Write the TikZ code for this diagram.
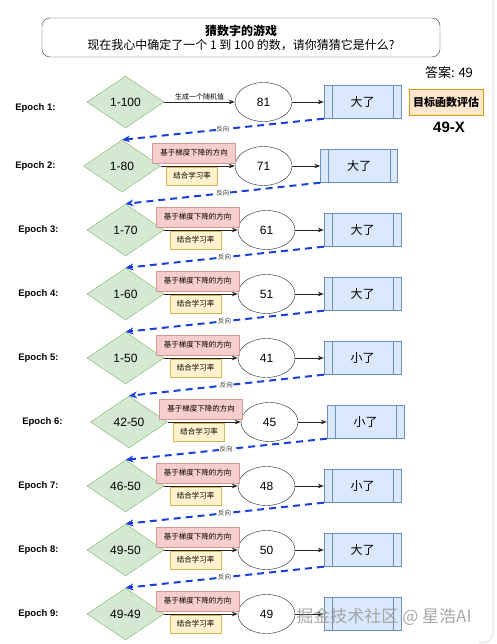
\documentclass[tikz,border=0pt]{standalone}
\usepackage{fontspec}
\setmainfont{Liberation Sans}
\newfontfamily\cjk{Noto Sans CJK SC}
\usetikzlibrary{shapes.geometric,arrows.meta,positioning}
\definecolor{grnfill}{HTML}{D5E8D4}
\definecolor{grnline}{HTML}{82B366}
\definecolor{bluefill}{HTML}{DAE8FC}
\definecolor{blueline}{HTML}{6C8EBF}
\definecolor{redfill}{HTML}{F8CECC}
\definecolor{redline}{HTML}{B85450}
\definecolor{yelfill}{HTML}{FFF2CC}
\definecolor{yelline}{HTML}{D6B656}
\definecolor{orgfill}{HTML}{FFE6CC}
\definecolor{orgline}{HTML}{D79B00}
\definecolor{backblue}{HTML}{1A3FE0}
\tikzset{
  rangebox/.style={diamond, draw=grnline, fill=grnfill, minimum width=77pt, minimum height=52pt, inner sep=0pt, font=\fontsize{12}{14}\selectfont},
  guessnode/.style={ellipse, draw=black!85, fill=white, minimum width=57pt, minimum height=39pt, inner sep=0pt, font=\fontsize{12}{14}\selectfont},
  resbox/.style={rectangle, draw=blueline, fill=bluefill, minimum width=77pt, minimum height=33pt, inner sep=0pt, font=\cjk\fontsize{12}{14}\selectfont},
  gradbox/.style={rectangle, draw=redline!60, fill=redfill, minimum width=83pt, minimum height=20pt, inner sep=0pt, font=\cjk\fontsize{7.5}{9}\selectfont},
  ratebox/.style={rectangle, draw=yelline, fill=yelfill, minimum width=51pt, minimum height=18pt, inner sep=0pt, font=\cjk\fontsize{7.5}{9}\selectfont},
  epochlbl/.style={anchor=east, font=\bfseries\fontsize{9.5}{11}\selectfont},
  fwd/.style={draw=black!85, line width=0.8pt, -{Stealth[length=6pt,width=4.5pt]}},
  back/.style={draw=backblue, line width=2pt, dash pattern=on 7pt off 5pt, -{Stealth[length=8pt,width=7pt]}},
  backlbl/.style={fill=white, inner sep=0.5pt, font=\cjk\fontsize{6.5}{8}\selectfont, text=black!75}
}
\begin{document}
\begin{tikzpicture}[x=1pt,y=-1pt]
  \useasboundingbox (0,0) rectangle (497,644);
  \draw[black!12, line width=1pt] (493,0) -- (493,630) .. controls (493,640) and (488,643) .. (479,643);

  \node[draw=black!80, rounded corners=8pt, minimum width=398pt, minimum height=39pt] (title) at (241,37.5) {};
  \node[font=\cjk\bfseries\fontsize{12}{14}\selectfont] (titleA) at (241,31) {猜数字的游戏};
  \node[font=\cjk\fontsize{12}{14}\selectfont] (titleB) at (241,45) {现在我心中确定了一个 1 到 100 的数，请你猜猜它是什么?};

  \node[font=\cjk\fontsize{13}{15}\selectfont] (answer) at (449,73) {答案: 49};
  \node[draw=orgline, fill=orgfill, minimum width=74pt, minimum height=26pt, inner sep=0pt, font=\cjk\bfseries\fontsize{11}{13}\selectfont] (objective) at (446,102) {目标函数评估};
  \node[font=\bfseries\fontsize{15}{17}\selectfont] (loss) at (449,127) {49-X};

  \foreach \i/\d/\e/\b/\t/\o/\rng/\num/\res in {
      1/125.5/263.5/362.5/59/6/1-100/81/大了,
      2/122/263.5/359/59/0/1-80/71/大了,
      3/125.5/266.5/362.5/62/0/1-70/61/大了,
      4/125.5/266.5/362.5/62/0/1-60/51/大了,
      5/125.5/266.5/362.5/62/0/1-50/41/小了,
      6/129/269.5/365.5/66/0/42-50/45/小了,
      7/125.5/266.5/362.5/62/0/46-50/48/小了,
      8/125.5/266.5/362.5/62/0/49-50/50/大了,
      9/125.5/266.5/362.5/62/0/49-49/49/{}}
  {
    \pgfmathsetmacro\yy{102+64*(\i-1)}
    \node[epochlbl] (epoch\i) at (\t,\yy+\o) {Epoch \i:};
    \node[rangebox] (range\i) at (\d,\yy) {\rng};
    \node[guessnode] (guess\i) at (\e,\yy) {\num};
    \node[resbox] (res\i) at (\b,\yy) {\res};
    \draw[blueline] ([xshift=8pt]res\i.north west) -- ([xshift=8pt]res\i.south west);
    \draw[blueline] ([xshift=-8pt]res\i.north east) -- ([xshift=-8pt]res\i.south east);
    \ifnum\i=1
      \draw[fwd] (range\i) -- node[above, inner sep=1.5pt, font=\cjk\fontsize{7}{8}\selectfont] {生成一个随机值} (guess\i);
    \else
      \draw[fwd] (range\i) -- (guess\i);
      \node[gradbox] (grad\i) at (\d+72,\yy-13) {基于梯度下降的方向};
      \node[ratebox] (rate\i) at (\d+70,\yy+10) {结合学习率};
    \fi
    \draw[fwd] (guess\i) -- (res\i);
  }

  \foreach \i [evaluate=\i as \j using int(\i+1)] in {1,...,8}
    \draw[back] (res\i.south west) -- node[backlbl] {反向} (range\j.north);

  \node[text=black!40, opacity=0.85, font=\cjk\fontsize{17}{19}\selectfont] (mark) at (384,617) {掘金技术社区 @ 星浩AI};
\end{tikzpicture}
\end{document}
